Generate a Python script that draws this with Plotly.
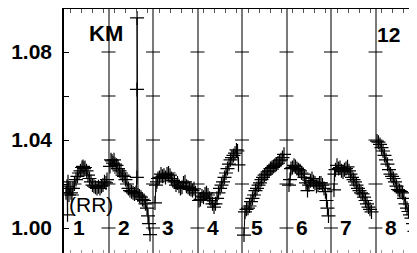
import plotly.graph_objects as go

# ---- data (phase within each panel, relative flux) ----
p1_phase = [0.045, 0.067, 0.079, 0.09, 0.112, 0.135, 0.157, 0.18, 0.202, 0.236, 0.27, 0.303, 0.337, 0.371,
            0.404, 0.427, 0.449, 0.472, 0.506, 0.539, 0.573, 0.607, 0.64, 0.674, 0.708, 0.742, 0.775,
            0.809, 0.843, 0.876, 0.91, 0.944, 0.966]
p1_val = [1.016, 1.019, 1.006, 1.021, 1.015, 1.018, 1.016, 1.015, 1.018, 1.020, 1.022, 1.0235, 1.025, 1.026,
          1.0275, 1.028, 1.027, 1.0275, 1.026, 1.024, 1.0225, 1.021, 1.0195, 1.019, 1.0185, 1.018, 1.0188,
          1.018, 1.019, 1.0195, 1.021, 1.0205, 1.022]

p2_phase = [0.034, 0.056, 0.079, 0.101, 0.124, 0.146, 0.18, 0.213, 0.247, 0.281, 0.315, 0.348, 0.382,
            0.416, 0.449, 0.483, 0.517, 0.551, 0.584, 0.618, 0.638, 0.64, 0.642, 0.663, 0.697, 0.73,
            0.764, 0.798, 0.831, 0.865, 0.888, 0.91, 0.933]
p2_val = [1.028, 1.031, 1.0305, 1.0295, 1.031, 1.029, 1.0285, 1.027, 1.026, 1.025, 1.024, 1.0235, 1.022,
          1.020, 1.018, 1.017, 1.0165, 1.016, 1.0155, 1.016, 1.023, 1.063, 1.0955, 1.015, 1.0145, 1.014,
          1.013, 1.0125, 1.011, 1.009, 1.0055, 1.002, 0.997]

p3_phase = [0.045, 0.067, 0.09, 0.112, 0.146, 0.18, 0.213, 0.247, 0.281, 0.315, 0.348, 0.382, 0.416, 0.449,
            0.483, 0.517, 0.551, 0.584, 0.618, 0.652, 0.685, 0.719, 0.753, 0.787, 0.82, 0.854, 0.888,
            0.921, 0.955]
p3_val = [1.0114, 1.0195, 1.021, 1.0225, 1.023, 1.0245, 1.0235, 1.024, 1.023, 1.0245, 1.025, 1.024, 1.0225,
          1.0215, 1.021, 1.0195, 1.0205, 1.019, 1.018, 1.0185, 1.0205, 1.021, 1.019, 1.0185, 1.0178,
          1.0175, 1.017, 1.0178, 1.016]

p4_phase = [0.034, 0.067, 0.101, 0.135, 0.169, 0.202, 0.236, 0.27, 0.303, 0.337, 0.371, 0.404, 0.438,
            0.472, 0.506, 0.539, 0.573, 0.607, 0.64, 0.674, 0.708, 0.742, 0.775, 0.809, 0.843, 0.876,
            0.899, 0.921]
p4_val = [1.0125, 1.013, 1.0145, 1.014, 1.0155, 1.016, 1.015, 1.0135, 1.0125, 1.011, 1.0095, 1.011, 1.0135,
          1.016, 1.018, 1.0195, 1.021, 1.023, 1.025, 1.027, 1.029, 1.031, 1.032, 1.033, 1.034, 1.0355,
          1.035, 1.0287]

p5_phase = [0.045, 0.067, 0.101, 0.135, 0.169, 0.202, 0.236, 0.27, 0.303, 0.337, 0.371, 0.404, 0.438,
            0.472, 0.506, 0.539, 0.573, 0.607, 0.64, 0.674, 0.708, 0.742, 0.775, 0.809, 0.843, 0.876,
            0.91, 0.944]
p5_val = [0.9968, 1.0073, 1.0085, 1.009, 1.010, 1.012, 1.0135, 1.015, 1.017, 1.018, 1.0195, 1.0205, 1.022,
          1.023, 1.024, 1.0245, 1.0255, 1.026, 1.027, 1.0275, 1.028, 1.0285, 1.029, 1.0295, 1.0305,
          1.031, 1.032, 1.0335]

p6_phase = [0.056, 0.079, 0.101, 0.135, 0.169, 0.202, 0.236, 0.27, 0.303, 0.337, 0.371, 0.404, 0.438,
            0.472, 0.506, 0.539, 0.573, 0.607, 0.64, 0.674, 0.708, 0.742, 0.775, 0.809, 0.843, 0.876,
            0.899, 0.921, 0.944]
p6_val = [1.0195, 1.022, 1.027, 1.0275, 1.0285, 1.028, 1.027, 1.0265, 1.026, 1.025, 1.0245, 1.023, 1.0205,
          1.017, 1.0195, 1.0215, 1.0225, 1.021, 1.0205, 1.019, 1.0195, 1.0205, 1.0205, 1.0195, 1.018,
          1.0165, 1.0125, 1.009, 1.0055]

p7_phase = [0.067, 0.079, 0.101, 0.135, 0.169, 0.202, 0.236, 0.27, 0.303, 0.337, 0.371, 0.404, 0.438,
            0.472, 0.506, 0.539, 0.573, 0.607, 0.64, 0.674, 0.708, 0.742, 0.775, 0.809, 0.843, 0.876, 0.91]
p7_val = [1.0173, 1.0245, 1.0265, 1.0285, 1.027, 1.0275, 1.026, 1.0255, 1.0265, 1.027, 1.0278, 1.026,
          1.0245, 1.023, 1.022, 1.021, 1.0195, 1.018, 1.017, 1.016, 1.0155, 1.014, 1.0125, 1.011, 1.0095,
          1.0085, 1.0073]

p8_phase = [0.034, 0.067, 0.101, 0.135, 0.169, 0.202, 0.236, 0.27, 0.303, 0.337, 0.371, 0.404, 0.438,
            0.472, 0.506, 0.539, 0.573, 0.607, 0.64, 0.674, 0.708, 0.742, 0.775, 0.809, 0.843, 0.876,
            0.91, 0.933]
p8_val = [1.0395, 1.039, 1.038, 1.0365, 1.035, 1.033, 1.031, 1.029, 1.0265, 1.0245, 1.0235, 1.0225, 1.021,
          1.019, 1.0175, 1.017, 1.0165, 1.016, 1.0135, 1.011, 1.009, 1.0075, 1.006, 1.0045, 1.002,
          0.9985, 0.9935, 0.990]

panel_labels = ["1", "2", "3", "4", "5", "6", "7", "8"]
y_tick_vals = [1.00, 1.02, 1.04, 1.06, 1.08]
y_tick_text = ["1.00", "", "1.04", "", "1.08"]

phases = [p1_phase, p2_phase, p3_phase, p4_phase, p5_phase, p6_phase, p7_phase, p8_phase]
values = [p1_val, p2_val, p3_val, p4_val, p5_val, p6_val, p7_val, p8_val]

X_RANGE = [0, 353 / 44.5]
Y_RANGE = [0.98864, 1.09955]

fig = go.Figure()

for k, (ph, vals) in enumerate(zip(phases, values)):
    fig.add_trace(go.Scatter(
        x=[k + p for p in ph], y=vals, mode="lines+markers",
        line=dict(color="black", width=1),
        marker=dict(symbol="cross-thin", size=10, line=dict(color="black", width=1.2)),
        showlegend=False, hoverinfo="skip", cliponaxis=True,
    ))

# tick marks on panel separators
sep_x, sep_y = [], []
for s in range(1, 8):
    for v in y_tick_vals:
        sep_x.append(s)
        sep_y.append(v)
fig.add_trace(go.Scatter(
    x=sep_x, y=sep_y, mode="markers",
    marker=dict(symbol="line-ew", size=10, line=dict(color="black", width=1)),
    showlegend=False, hoverinfo="skip",
))

# invisible trace for top axis
fig.add_trace(go.Scatter(x=X_RANGE, y=[None, None], xaxis="x2", mode="markers",
                         showlegend=False, hoverinfo="skip"))

font_fam = "Liberation Sans, Arial, sans-serif"
annotations = []
for k, lab in enumerate(panel_labels):
    annotations.append(dict(x=k + 0.337, y=1.0002, xref="x", yref="y", text=lab, showarrow=False,
                            font=dict(family=font_fam, size=21, color="black", weight="bold")))
annotations.append(dict(x=7.292, y=1.088, xref="x", yref="y", text="12", showarrow=False,
                        font=dict(family=font_fam, size=21, color="black", weight="bold")))
annotations.append(dict(x=0.933, y=1.0884, xref="x", yref="y", text="KM", showarrow=False,
                        font=dict(family=font_fam, size=22, color="black", weight="bold")))
annotations.append(dict(x=0.607, y=1.0105, xref="x", yref="y", text="(RR)", showarrow=False,
                        font=dict(family=font_fam, size=21, color="black")))

# page body has an 8px default margin, so the paper is shifted accordingly
fig.update_layout(
    width=417, height=253,
    margin=dict(l=56, r=8, t=1, b=8, pad=0),
    paper_bgcolor="white", plot_bgcolor="white",
    showlegend=False,
    annotations=annotations,
    xaxis=dict(range=X_RANGE, showgrid=True, gridcolor="#7a7a7a", gridwidth=1.5,
               tick0=0, dtick=1, showticklabels=False, ticks="", zeroline=False,
               showline=False,
               minor=dict(ticks="inside", tick0=0.135, dtick=0.25, ticklen=3,
                          tickcolor="#999999", tickwidth=1, showgrid=False)),
    xaxis2=dict(range=X_RANGE, overlaying="x", side="top", anchor="y", showgrid=False,
                showticklabels=False, ticks="", zeroline=False,
                showline=True, linecolor="black", linewidth=1.5,
                minor=dict(ticks="inside", tick0=0.135, dtick=0.25, ticklen=4,
                           tickcolor="#555555", tickwidth=1, showgrid=False)),
    yaxis=dict(range=Y_RANGE, showgrid=False, zeroline=False,
               showline=True, linecolor="black", linewidth=1.5,
               tickvals=y_tick_vals, ticktext=y_tick_text,
               ticks="inside", ticklen=5, tickcolor="black", tickwidth=1,
               ticklabelstandoff=6,
               tickfont=dict(family=font_fam, size=21, color="black", weight="bold")),
)

fig.write_html("out.html")
